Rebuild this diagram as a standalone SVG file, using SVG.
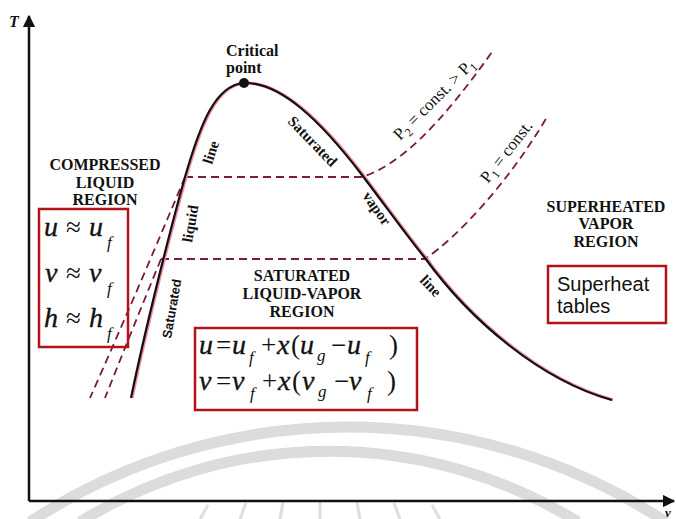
<svg xmlns="http://www.w3.org/2000/svg" width="676" height="519" viewBox="0 0 676 519">
<style>
.lbl{font-family:"Liberation Serif","Times New Roman",serif;font-weight:bold;font-size:16px;fill:#111;}
.rot{font-family:"Liberation Serif","Times New Roman",serif;font-weight:bold;font-size:15px;fill:#111;}
.eq{font-family:"Liberation Serif","Times New Roman",serif;font-style:italic;font-size:28px;fill:#111;stroke:#111;stroke-width:0.35;}
.eqs{font-family:"Liberation Serif","Times New Roman",serif;font-style:italic;font-size:17px;fill:#111;}
.op{font-family:"Liberation Serif","Times New Roman",serif;font-size:27px;fill:#111;}
.pl{font-family:"Liberation Serif","Times New Roman",serif;font-size:17px;fill:#111;}
.box{fill:none;stroke:#b3121b;stroke-width:2.5;}
.dash{fill:none;stroke:#7b1b3b;stroke-width:1.8;stroke-dasharray:8 5;}
.sat{fill:none;stroke:#111;stroke-width:2.2;}
.halo{fill:none;stroke:#f28a98;stroke-width:3.2;}
.wm{fill:none;stroke:#dcdcdc;stroke-width:11;}
.wt{stroke:#dedede;stroke-width:3;}
.sh{font-family:"Liberation Sans",Arial,sans-serif;font-size:20px;fill:#111;}
</style>
<defs>
<marker id="ah" viewBox="0 0 10 10" refX="9" refY="5" markerWidth="5" markerHeight="5" orient="auto-start-reverse" markerUnits="strokeWidth">
<path d="M0,0 L10,5 L0,10 z" fill="#111"/>
</marker>
</defs>
<rect width="676" height="519" fill="#fff"/>
<g id="watermark">
<path class="wm" d="M30,522 A580,580 0 0 1 666,522"/>
<path class="wm" d="M80,522 A473,473 0 0 1 578,522"/>
<line class="wt" x1="200" y1="519" x2="208" y2="505"/>
<line class="wt" x1="240" y1="519" x2="246" y2="503"/>
<line class="wt" x1="280" y1="519" x2="283" y2="502"/>
<line class="wt" x1="320" y1="519" x2="320" y2="502"/>
<line class="wt" x1="360" y1="519" x2="357" y2="502"/>
<line class="wt" x1="400" y1="519" x2="394" y2="503"/>
<line class="wt" x1="440" y1="519" x2="432" y2="505"/>
</g>
<g id="axes">
<line x1="29" y1="501" x2="29" y2="16" stroke="#111" stroke-width="2.5" marker-end="url(#ah)"/>
<line x1="29" y1="501" x2="674" y2="501" stroke="#111" stroke-width="2.5" marker-end="url(#ah)"/>
<text x="9" y="27" font-family="Liberation Serif, serif" font-weight="bold" font-style="italic" font-size="16" fill="#111">T</text>
<text x="665" y="517" font-family="Liberation Serif, serif" font-weight="bold" font-style="italic" font-size="13" fill="#111">v</text>
</g>
<g id="connectors">
<path class="dash" d="M185,177 H362 C400,165 440,125 492,52"/>
<path class="dash" d="M161,259 H425 C460,235 510,180 547,117"/>
<path class="dash" d="M185,177 Q140,285 90,398"/>
<path class="dash" d="M161,259 Q132,330 105,398"/>
</g>
<g id="dome">
<path class="halo" d="M131,398 C145,330 170,230 185,177 C200,125 215,85 244,83 C280,82 320,120 362,175 C390,212 410,240 425,258 C470,320 540,380 612,400" transform="translate(1,0)"/>
<path class="sat" d="M131,398 C145,330 170,230 185,177 C200,125 215,85 244,83 C280,82 320,120 362,175 C390,212 410,240 425,258 C470,320 540,380 612,400"/>
<circle cx="244" cy="83" r="5" fill="#111"/>
</g>
<g id="critical-point">
<text class="lbl" x="226" y="56">Critical</text>
<text class="lbl" x="226" y="73">point</text>
</g>
<g id="curve-labels">
<text class="rot" transform="translate(212,165) rotate(-72)">line</text>
<text class="rot" transform="translate(192,243) rotate(-80)">liquid</text>
<text font-family="Liberation Sans, Arial, sans-serif" font-weight="bold" font-size="13" fill="#111" transform="translate(171,339) rotate(-80)">Saturated</text>
<text class="rot" transform="translate(287,122) rotate(46)">Saturated</text>
<text class="rot" transform="translate(362,196) rotate(55)">vapor</text>
<text class="rot" transform="translate(419,281) rotate(46)">line</text>
<text class="pl" transform="translate(400,141) rotate(-45)">P<tspan font-size="12" dy="4">2</tspan><tspan dy="-4"> = const. &gt; P</tspan><tspan font-size="12" dy="4">1</tspan></text>
<text class="pl" transform="translate(488,184) rotate(-52)">P<tspan font-size="12" dy="4">1</tspan><tspan dy="-4"> = const.</tspan></text>
</g>
<g id="compressed-region">
<text class="lbl" text-anchor="middle" x="105" y="170">COMPRESSED</text>
<text class="lbl" text-anchor="middle" x="105" y="188">LIQUID</text>
<text class="lbl" text-anchor="middle" x="105" y="205">REGION</text>
<rect class="box" x="39" y="209" width="89" height="138"/>
<text class="eq" x="44" y="236">u</text><text class="op" x="66" y="236">≈</text><text class="eq" x="89" y="236">u</text><text class="eqs" x="107" y="248">f</text>
<text class="eq" x="45" y="282">v</text><text class="op" x="66" y="282">≈</text><text class="eq" x="89" y="282">v</text><text class="eqs" x="107" y="294">f</text>
<text class="eq" x="44" y="327">h</text><text class="op" x="66" y="327">≈</text><text class="eq" x="89" y="327">h</text><text class="eqs" x="107" y="339">f</text>
</g>
<g id="saturated-region">
<text class="lbl" text-anchor="middle" x="302" y="281">SATURATED</text>
<text class="lbl" text-anchor="middle" x="302" y="299">LIQUID-VAPOR</text>
<text class="lbl" text-anchor="middle" x="302" y="317">REGION</text>
<rect class="box" x="195" y="328" width="222" height="82"/>
<text class="eq" x="199" y="354">u</text><text class="op" x="216" y="354">=</text><text class="eq" x="232" y="354">u</text><text class="eqs" x="249" y="363">f</text><text class="op" x="261" y="354">+</text><text class="eq" x="277" y="354">x</text><text class="op" x="291" y="354">(</text><text class="eq" x="300" y="354">u</text><text class="eqs" x="317" y="361">g</text><text class="op" x="331" y="354">−</text><text class="eq" x="347" y="354">u</text><text class="eqs" x="365" y="363">f</text><text class="op" x="389" y="354">)</text>
<text class="eq" x="199" y="390">v</text><text class="op" x="216" y="390">=</text><text class="eq" x="232" y="390">v</text><text class="eqs" x="250" y="399">f</text><text class="op" x="262" y="390">+</text><text class="eq" x="278" y="390">x</text><text class="op" x="292" y="390">(</text><text class="eq" x="302" y="390">v</text><text class="eqs" x="318" y="397">g</text><text class="op" x="334" y="390">−</text><text class="eq" x="349" y="390">v</text><text class="eqs" x="367" y="399">f</text><text class="op" x="387" y="390">)</text>
</g>
<g id="superheated-region">
<text class="lbl" text-anchor="middle" x="606" y="212">SUPERHEATED</text>
<text class="lbl" text-anchor="middle" x="606" y="229">VAPOR</text>
<text class="lbl" text-anchor="middle" x="606" y="247">REGION</text>
<rect class="box" x="548" y="266" width="118" height="57"/>
<text class="sh" x="557" y="291">Superheat</text>
<text class="sh" x="557" y="313">tables</text>
</g>
</svg>
